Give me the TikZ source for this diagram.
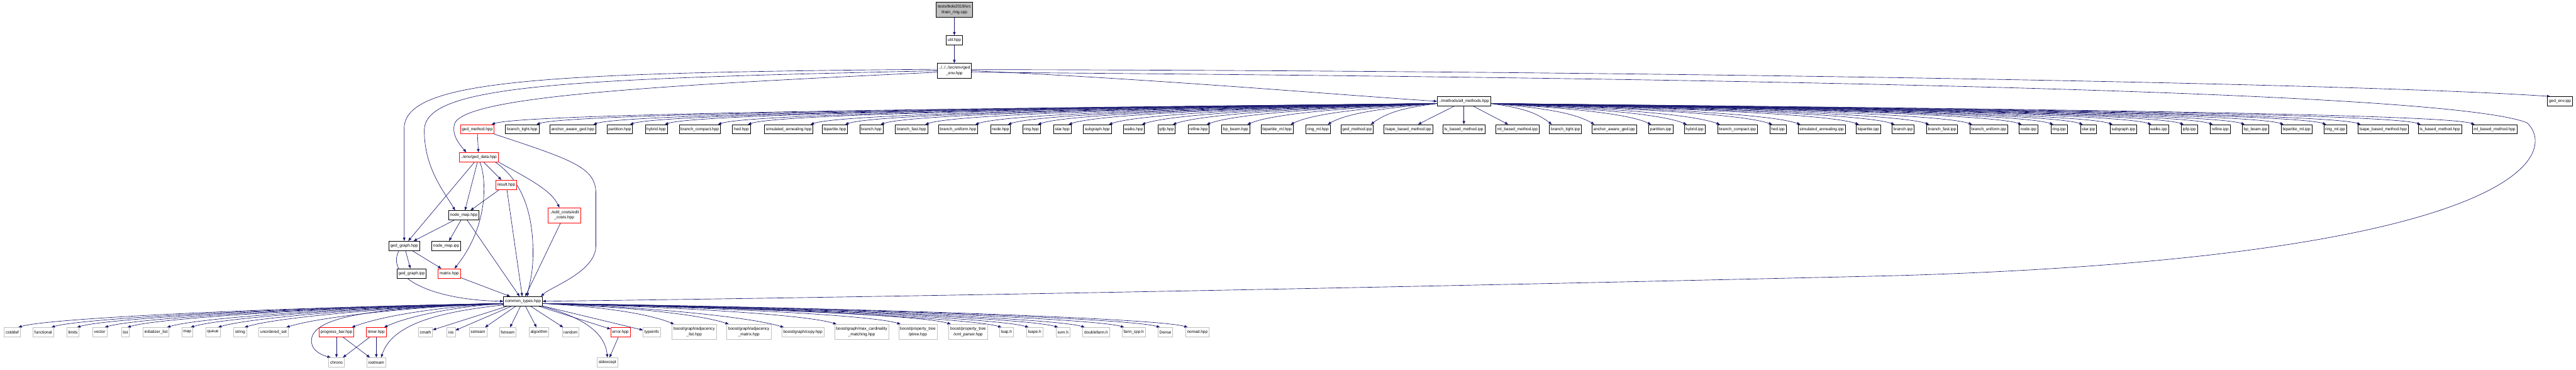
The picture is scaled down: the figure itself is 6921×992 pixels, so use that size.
\documentclass[tikz,border=0pt]{standalone}
\usepackage{fontspec}
\setmainfont{Liberation Sans}
\usetikzlibrary{arrows.meta,calc}
\definecolor{edgeblue}{HTML}{191970}
\definecolor{extgrey}{HTML}{BFBFBF}
\pgfdeclarelayer{bg}
\pgfsetlayers{bg,main}
\tikzset{
  box/.style={draw, rectangle, fill=white, line width=1pt, inner xsep=4pt, inner ysep=0pt,
    minimum height=25pt, align=center, font=\fontsize{11}{14}\selectfont},
  doc/.style={box, draw=black},
  trunc/.style={box, draw=red},
  ext/.style={box, draw=extgrey},
  rootbox/.style={box, draw=black, fill=extgrey},
  two/.style={minimum height=40pt},
  edge/.style={draw=edgeblue, line width=1.1pt, -{Triangle[length=9pt,width=7pt]}},
}
\begin{document}
\begin{tikzpicture}[x=1pt,y=-1pt]
\useasboundingbox (0,0) rectangle (6921,992);

% top chain
\node[rootbox,two] (root) at (2564,26) {tests/tkde2019/src\\/train\_ring.cpp};
\node[doc] (util) at (2564,108) {util.hpp};
\node[doc,two] (genv) at (2564,190) {../../../src/env/ged\\\_env.hpp};
\node[doc] (am) at (3933,272) {../methods/all\_methods.hpp};
\node[doc] (genvipp) at (6878,272) {ged\_env.ipp};

% methods row
\node[trunc] (gm) at (1282,347) {ged\_method.hpp};
\foreach \n/\x/\lbl in {
  r2/1403/branch\_tight.hpp, r3/1539/anchor\_aware\_ged.hpp, r4/1665/partition.hpp,
  r5/1763/hybrid.hpp, r6/1880/branch\_compact.hpp, r7/1992/hed.hpp,
  r8/2119/simulated\_annealing.hpp, r9/2243/bipartite.hpp, r10/2341/branch.hpp,
  r11/2449/branch\_fast.hpp, r12/2574/branch\_uniform.hpp, r13/2688/node.hpp,
  r14/2771/ring.hpp, r15/2854/star.hpp, r16/2948/subgraph.hpp, r17/3046/walks.hpp,
  r18/3134/ipfp.hpp, r19/3220/refine.hpp, r20/3320/bp\_beam.hpp,
  r21/3431/bipartite\_ml.hpp, r22/3541/ring\_ml.hpp, r23/3646/ged\_method.ipp,
  r24/3784/lsape\_based\_method.ipp, r25/3933/ls\_based\_method.ipp,
  r26/4077/ml\_based\_method.ipp, r27/4206/branch\_tight.ipp,
  r28/4337/anchor\_aware\_ged.ipp, r29/4462/partition.ipp, r30/4553/hybrid.ipp,
  r31/4668/branch\_compact.ipp, r32/4777/hed.ipp, r33/4894/simulated\_annealing.ipp,
  r34/5020/bipartite.ipp, r35/5113/branch.ipp, r36/5218/branch\_fast.ipp,
  r37/5343/branch\_uniform.ipp, r38/5450/node.ipp, r39/5532/ring.ipp,
  r40/5611/star.ipp, r41/5705/subgraph.ipp, r42/5800/walks.ipp, r43/5882/ipfp.ipp,
  r44/5965/refine.ipp, r45/6060/bp\_beam.ipp, r46/6170/bipartite\_ml.ipp,
  r47/6274/ring\_ml.ipp, r48/6403/lsape\_based\_method.hpp,
  r49/6555/ls\_based\_method.hpp, r50/6702/ml\_based\_method.hpp}
  {\node[doc] (\n) at (\x,347) {\lbl};}

% left cluster
\node[trunc] (gdata) at (1286,422) {../env/ged\_data.hpp};
\node[trunc] (result) at (1360,496) {result.hpp};
\node[doc] (nm) at (1246,578) {node\_map.hpp};
\node[trunc,two] (edit) at (1516,578) {../edit\_costs/edit\\\_costs.hpp};
\node[doc] (gg) at (1086,660) {ged\_graph.hpp};
\node[doc] (nmipp) at (1199,660) {node\_map.ipp};
\node[doc] (ggipp) at (1106,734) {ged\_graph.ipp};
\node[trunc] (matrix) at (1207,734) {matrix.hpp};
\node[doc] (ct) at (1405,809) {common\_types.hpp};

% bottom row
\node[ext] (cstddef) at (33,892) {cstddef};
\node[ext] (functional) at (116,892) {functional};
\node[ext] (limits) at (196,892) {limits};
\node[ext] (vector) at (268,892) {vector};
\node[ext] (list) at (337,892) {list};
\node[ext] (initlist) at (419,892) {initializer\_list};
\node[ext] (map) at (503,892) {map};
\node[ext] (queue) at (572,892) {queue};
\node[ext] (string) at (645,892) {string};
\node[ext] (uset) at (735,892) {unordered\_set};
\node[trunc] (pb) at (904,892) {progress\_bar.hpp};
\node[trunc] (timer) at (1011,892) {timer.hpp};
\node[ext] (cmath) at (1143,892) {cmath};
\node[ext] (ios) at (1212,892) {ios};
\node[ext] (sstream) at (1284,892) {sstream};
\node[ext] (fstream) at (1364,892) {fstream};
\node[ext] (algorithm) at (1448,892) {algorithm};
\node[ext] (random) at (1533,892) {random};
\node[trunc] (error) at (1667,892) {error.hpp};
\node[ext] (typeinfo) at (1751,892) {typeinfo};
\node[ext,two] (adjlist) at (1865,891) {boost/graph/adjacency\\\_list.hpp};
\node[ext,two] (adjmat) at (2012,891) {boost/graph/adjacency\\\_matrix.hpp};
\node[ext] (copy) at (2157,892) {boost/graph/copy.hpp};
\node[ext,two] (maxcard) at (2315,891) {boost/graph/max\_cardinality\\\_matching.hpp};
\node[ext,two] (ptree) at (2466,891) {boost/property\_tree\\/ptree.hpp};
\node[ext,two] (xml) at (2601,891) {boost/property\_tree\\/xml\_parser.hpp};
\node[ext] (lsap) at (2704,892) {lsap.h};
\node[ext] (lsape) at (2780,892) {lsape.h};
\node[ext] (svm) at (2856,892) {svm.h};
\node[ext] (doublefann) at (2945,892) {doublefann.h};
\node[ext] (fanncpp) at (3046,892) {fann\_cpp.h};
\node[ext] (dense) at (3131,892) {Dense};
\node[ext] (nomad) at (3217,892) {nomad.hpp};
\node[ext] (chrono) at (904,973) {chrono};
\node[ext] (iostream) at (1011,973) {iostream};
\node[ext] (stdexcept) at (1632,973) {stdexcept};

\begin{pgfonlayer}{bg}
% top chain
\draw[edge] (root) -- (util);
\draw[edge] (util) -- (genv);
\draw[edge] (genv.east) .. controls (3100,212) and (3600,255) .. (am.west);
\draw[edge] ($(genv.east)+(0,-3)$) .. controls +(1800,2) and +(-500,-35) .. ($(genvipp.north west)+(8,0)$);
\draw[edge] ($(genv.east)+(0,4)$) .. controls (4000,205) and (6550,230) .. (6790,330)
   .. controls (6880,420) and (6750,690) .. (5100,740)
   .. controls (3500,778) and (2200,800) .. (ct.east);
\draw[edge] ($(genv.west)+(0,-4)$) .. controls (1450,195) and (1086,215) .. (1086,345) -- (gg.north);
\draw[edge] (genv.west) .. controls (1500,212) and (1140,230) .. (1140,350)
   .. controls (1140,450) and (1190,510) .. ($(nm.north west)+(18,0)$);
\draw[edge] ($(genv.west)+(0,4)$) .. controls (1700,232) and (1260,262) .. (1222,330)
   .. controls (1212,360) and (1232,385) .. ($(gdata.north west)+(20,0)$);

% all_methods fan
\foreach \n/\x in {gm/1282, r2/1403, r3/1539, r4/1665, r5/1763, r6/1880, r7/1992,
  r8/2119, r9/2243, r10/2341, r11/2449, r12/2574, r13/2688, r14/2771, r15/2854,
  r16/2948, r17/3046, r18/3134, r19/3220, r20/3320, r21/3431, r22/3541, r23/3646}{
  \pgfmathsetmacro\dst{3860-\x}
  \pgfmathsetmacro\ca{0.45*\dst}
  \pgfmathsetmacro\cb{min(0.1*\dst+20,90)}
  \draw[edge] ($(am.west)+(0,6)$) .. controls +(-\ca,12) and +(\cb,-30) .. ($(\n.north east)+(-7,0)$);
}
\foreach \n in {r24,r25,r26}{\draw[edge] (am) -- (\n);}
\foreach \n/\x in {r27/4206, r28/4337, r29/4462, r30/4553, r31/4668, r32/4777,
  r33/4894, r34/5020, r35/5113, r36/5218, r37/5343, r38/5450, r39/5532, r40/5611,
  r41/5705, r42/5800, r43/5882, r44/5965, r45/6060, r46/6170, r47/6274, r48/6403,
  r49/6555, r50/6702}{
  \pgfmathsetmacro\dst{\x-4007}
  \pgfmathsetmacro\ca{0.45*\dst}
  \pgfmathsetmacro\cb{min(0.1*\dst+20,90)}
  \draw[edge] ($(am.east)+(0,6)$) .. controls +(\ca,12) and +(-\cb,-30) .. ($(\n.north west)+(7,0)$);
}

% left cluster
\draw[edge] (gm) -- (gdata);
\draw[edge] (gm.south east) .. controls (1540,430) and (1601,450) .. (1601,520) -- (1601,660)
   .. controls (1601,730) and (1480,770) .. ($(ct.north east)+(-4,0)$);
\draw[edge] (gdata) -- (gg);
\draw[edge] (gdata) -- (nm);
\draw[edge] (gdata) -- (result);
\draw[edge] ($(gdata.south)+(3,0)$) .. controls (1305,470) and (1318,600) .. ($(matrix.north east)+(-16,0)$);
\draw[edge] ($(gdata.south east)+(-9,0)$) .. controls (1425,500) and (1432,620) .. (1432,680)
   .. controls (1432,740) and (1420,770) .. ($(ct.north)+(12,0)$);
\draw[edge] (gdata.south east) .. controls (1420,480) and (1480,510) .. ($(edit.north)+(-13,0)$);
\draw[edge] (result) -- (nm);
\draw[edge] (result) -- (ct);
\draw[edge] (nm) -- (gg);
\draw[edge] (nm) -- (nmipp);
\draw[edge] (nm) -- (ct);
\draw[edge] (edit) -- (ct);
\draw[edge] (gg) -- (ggipp);
\draw[edge] (gg) -- (matrix);
\draw[edge] ($(gg.south)+(-14,0)$) .. controls (1035,740) and (1150,805) .. (ct.west);
\draw[edge] (matrix) -- (ct);

% common_types fan
\foreach \n/\x in {cstddef/33, functional/116, limits/196, vector/268, list/337,
  initlist/419, map/503, queue/572, string/645, uset/735, pb/904, timer/1011}{
  \pgfmathsetmacro\dst{1351-\x}
  \pgfmathsetmacro\ca{0.45*\dst}
  \pgfmathsetmacro\cb{min(0.1*\dst+20,80)}
  \draw[edge] ($(ct.west)+(0,6)$) .. controls +(-\ca,10) and +(\cb,-25) .. ($(\n.north east)+(-6,0)$);
}
\foreach \n in {cmath,ios,sstream,fstream,algorithm,random,error,typeinfo}{\draw[edge] (ct) -- (\n);}
\foreach \n/\x in {adjlist/1865, adjmat/2012, copy/2157, maxcard/2315, ptree/2466,
  xml/2601, lsap/2704, lsape/2780, svm/2856, doublefann/2945, fanncpp/3046,
  dense/3131, nomad/3217}{
  \pgfmathsetmacro\dst{\x-1460}
  \pgfmathsetmacro\ca{0.45*\dst}
  \pgfmathsetmacro\cb{min(0.1*\dst+20,80)}
  \draw[edge] ($(ct.east)+(0,6)$) .. controls +(\ca,10) and +(-\cb,-25) .. ($(\n.north west)+(6,0)$);
}
\draw[edge] ($(ct.west)+(0,8)$) .. controls (950,825) and (830,860) .. (837,920)
   .. controls (840,945) and (870,955) .. ($(chrono.north west)+(6,0)$);
\draw[edge] ($(ct.west)+(0,10)$) .. controls (1150,840) and (1050,880) .. ($(iostream.north)+(13,0)$);
\draw[edge] ($(ct.south east)+(-3,0)$) .. controls (1560,850) and (1625,890) .. (stdexcept.north);
\draw[edge] (pb) -- (chrono);
\draw[edge] (pb) -- (iostream);
\draw[edge] (timer) -- (chrono);
\draw[edge] (timer) -- (iostream);
\draw[edge] (error) -- (stdexcept);
\end{pgfonlayer}
\end{tikzpicture}
\end{document}
